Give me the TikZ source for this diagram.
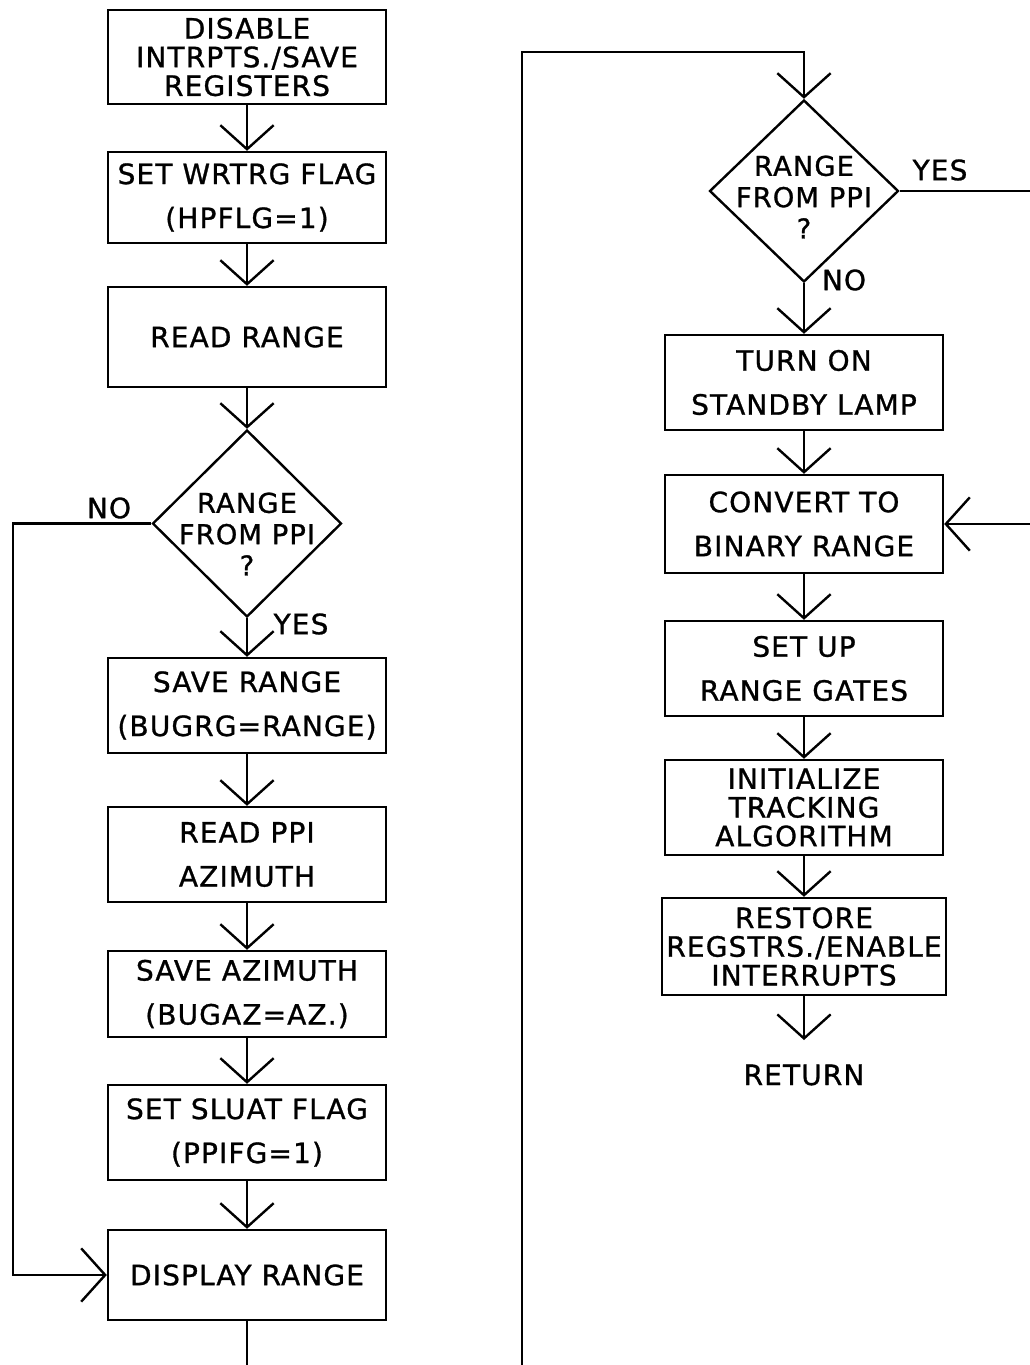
\documentclass[tikz,border=0pt]{standalone}
\usepackage{fontspec}
\setmainfont{DejaVu Sans}[LetterSpace=4,FakeBold=1]
\usetikzlibrary{arrows.meta,shapes.geometric}
\begin{document}
\begin{tikzpicture}[x=0.75pt,y=-0.75pt,
  line width=1.8pt,
  every node/.style={font=\fontsize{21}{22}\selectfont},
  proc/.style={draw, line width=1.8pt, inner sep=0pt, align=center, minimum width=278*0.75pt},
  tight/.style={font=\fontsize{21}{21.5}\selectfont},
  loose/.style={font=\fontsize{21}{33}\selectfont},
  dec/.style={draw, diamond, line width=1.8pt, inner sep=0pt, minimum width=189*0.75pt, minimum height=187*0.75pt},
  lbl/.style={inner sep=0pt, align=center, font=\fontsize{20.5}{23.5}\selectfont},
  tag/.style={inner sep=0pt, font=\fontsize{21}{22}\selectfont},
  flow/.style={-{Straight Barb[length=18pt,width=40pt]}},
]
\useasboundingbox (0,0) rectangle (1030,1365);

% left column
\node[proc, tight, minimum height=94*0.75pt] (b1) at (247,57) {DISABLE\\INTRPTS./SAVE\\REGISTERS};
\node[proc, loose, minimum height=91*0.75pt] (b2) at (247,197.5) {SET WRTRG FLAG\\(HPFLG=1)};
\node[proc, minimum height=100*0.75pt] (b3) at (247,337) {READ RANGE};
\node[dec] (d1) at (247,523.5) {};
\node[lbl] (d1t) at (247,534) {RANGE\\FROM PPI\\?};
\node[proc, loose, minimum height=95*0.75pt] (b4) at (247,705.5) {SAVE RANGE\\(BUGRG=RANGE)};
\node[proc, loose, minimum height=95*0.75pt] (b5) at (247,854.5) {READ PPI\\AZIMUTH};
\node[proc, loose, minimum height=86*0.75pt] (b6) at (247,994) {SAVE AZIMUTH\\(BUGAZ=AZ.)};
\node[proc, loose, minimum height=95*0.75pt] (b7) at (247,1132.5) {SET SLUAT FLAG\\(PPIFG=1)};
\node[proc, minimum height=90*0.75pt] (b8) at (247,1275) {DISPLAY RANGE};

\node[tag] (lno) at (109,508) {NO};
\node[tag] (lyes) at (301,624) {YES};

% right column
\node[dec, minimum height=182*0.75pt] (d2) at (804,191) {};
\node[lbl] (d2t) at (804,197) {RANGE\\FROM PPI\\?};
\node[proc, loose, minimum height=95*0.75pt] (r1) at (804,382.5) {TURN ON\\STANDBY LAMP};
\node[proc, loose, minimum height=98*0.75pt] (r2) at (804,524) {CONVERT TO\\BINARY RANGE};
\node[proc, loose, minimum height=95*0.75pt] (r3) at (804,668.5) {SET UP\\RANGE GATES};
\node[proc, tight, minimum height=95*0.75pt] (r4) at (804,807.5) {INITIALIZE\\TRACKING\\ALGORITHM};
\node[proc, tight, minimum height=97*0.75pt, minimum width=284*0.75pt] (r5) at (804,946.5) {RESTORE\\REGSTRS./ENABLE\\INTERRUPTS};
\node[tag] (ret) at (804,1075) {RETURN};

\node[tag] (ryes) at (940,170) {YES};
\node[tag] (rno) at (844,280) {NO};

% coordinates
\coordinate (lx) at (13,0);
\coordinate (redge) at (1030,0);
\coordinate (lbot) at (247,1365);
\coordinate (rbot) at (522,1365);
\coordinate (rtl) at (522,52);
\coordinate (rtr) at (804,52);
\coordinate (retarr) at (804,1040);

% left flow
\draw[flow] (b1.south) -- (b2.north);
\draw[flow] (b2.south) -- (b3.north);
\draw[flow] (b3.south) -- (d1.north);
\draw[flow] (d1.south) -- (b4.north);
\draw[flow] (b4.south) -- (b5.north);
\draw[flow] (b5.south) -- (b6.north);
\draw[flow] (b6.south) -- (b7.north);
\draw[flow] (b7.south) -- (b8.north);
\draw[flow] (d1.west) -- (d1.west -| lx) |- (b8.west);
\draw (b8.south) -- (lbot);

% right flow
\draw[flow] (rbot) -- (rtl) -- (rtr) -- (d2.north);
\draw[flow] (d2.south) -- (r1.north);
\draw[flow] (r1.south) -- (r2.north);
\draw[flow] (r2.south) -- (r3.north);
\draw[flow] (r3.south) -- (r4.north);
\draw[flow] (r4.south) -- (r5.north);
\draw[flow] (r5.south) -- (retarr);
\draw (d2.east) -- (d2.east -| redge);
\draw[flow] (r2.east -| redge) -- (r2.east);
\end{tikzpicture}
\end{document}
